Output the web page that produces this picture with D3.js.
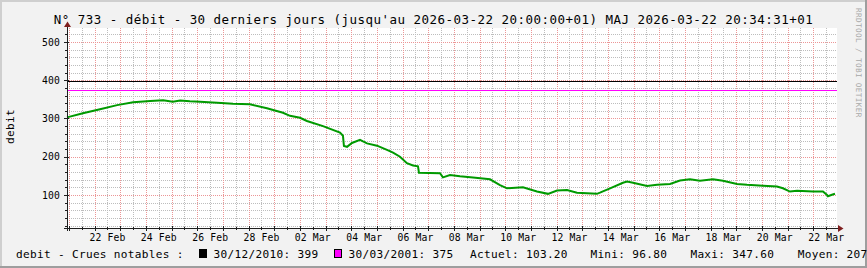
<!DOCTYPE html>
<html><head><meta charset="utf-8">
<script src="https://cdn.jsdelivr.net/npm/d3@7"></script>
<style>
html,body{margin:0;padding:0;background:#f2f2f2;overflow:hidden;}
svg{display:block;}
text{font-family:"DejaVu Sans Mono", monospace;fill:#000;}
</style></head><body>
<svg id="chart" width="867" height="268"></svg>
<script>
// ---- data ----
const title = "N° 733 - débit - 30 derniers jours (jusqu'au 2026-03-22 20:00:00+01) MAJ 2026-03-22 20:34:31+01";
const unitLabel = "debit";
const watermark = "RRDTOOL / TOBI OETIKER";
const times = [
  "2026-02-20T22:08Z","2026-02-21T13:00Z","2026-02-22T05:00Z","2026-02-22T21:00Z","2026-02-23T12:00Z",
  "2026-02-24T04:00Z","2026-02-24T16:00Z","2026-02-25T01:00Z","2026-02-25T08:00Z","2026-02-25T17:00Z",
  "2026-02-26T02:30Z","2026-02-26T18:30Z","2026-02-27T09:20Z","2026-02-28T01:10Z","2026-02-28T17:05Z",
  "2026-03-01T08:05Z","2026-03-01T14:40Z","2026-03-02T00:00Z","2026-03-02T06:30Z","2026-03-02T21:30Z",
  "2026-03-03T13:25Z","2026-03-03T16:10Z","2026-03-03T17:05Z","2026-03-03T20:00Z","2026-03-04T00:35Z",
  "2026-03-04T08:05Z","2026-03-04T10:55Z","2026-03-04T14:40Z","2026-03-05T00:00Z","2026-03-05T09:20Z",
  "2026-03-05T15:00Z","2026-03-05T21:30Z","2026-03-06T04:00Z","2026-03-06T09:40Z","2026-03-06T14:20Z",
  "2026-03-06T15:15Z","2026-03-07T10:55Z","2026-03-07T13:40Z","2026-03-07T20:15Z","2026-03-08T05:35Z",
  "2026-03-08T17:45Z","2026-03-09T09:40Z","2026-03-09T19:00Z","2026-03-10T01:35Z","2026-03-10T16:30Z",
  "2026-03-11T05:35Z","2026-03-11T15:55Z","2026-03-12T00:20Z","2026-03-12T09:40Z","2026-03-12T19:00Z",
  "2026-03-13T13:40Z","2026-03-13T16:30Z","2026-03-14T01:55Z","2026-03-14T14:00Z","2026-03-14T17:50Z",
  "2026-03-14T23:25Z","2026-03-15T12:30Z","2026-03-15T21:50Z","2026-03-16T10:00Z","2026-03-16T19:20Z",
  "2026-03-17T04:40Z","2026-03-17T14:00Z","2026-03-18T02:10Z","2026-03-18T11:30Z","2026-03-19T00:35Z",
  "2026-03-19T10:00Z","2026-03-20T00:55Z","2026-03-20T14:00Z","2026-03-20T19:35Z","2026-03-21T02:10Z",
  "2026-03-21T08:45Z","2026-03-21T23:40Z","2026-03-22T09:00Z","2026-03-22T12:50Z","2026-03-22T13:40Z",
  "2026-03-22T17:25Z","2026-03-22T20:15Z"
];
const values = [
  303, 313.6, 324, 335, 342.5,
  346, 347.6, 344, 347, 345,
  344, 341, 338.5, 337, 327,
  315, 307, 302, 293.5, 280,
  263, 255, 228, 226, 236,
  244, 240, 235, 229, 218,
  211, 200, 183, 177, 175,
  158, 157, 146, 152, 149,
  146, 141, 126, 117.5, 120,
  109, 103, 111.6, 113, 106,
  103, 106, 117.5, 132, 135,
  132, 123.5, 126.5, 129, 137.7,
  141, 137, 141, 137, 129,
  126.5, 124, 122, 117.5, 109,
  111, 109, 109, 100, 96.8,
  100.5, 103.2
];
const floodDates = ["30/12/2010", "30/03/2001"];
const floodValues = [399, 375];
const floodColors = ["#000000", "#ff00ff"];
const legendPrefix = "debit - Crues notables :";
const statLabels = ["Actuel", "Mini", "Maxi", "Moyen"];
const statValues = ["103.20", "96.80", "347.60", "207"];
const xTickDays = ["2026-02-22","2026-02-24","2026-02-26","2026-02-28","2026-03-02","2026-03-04",
  "2026-03-06","2026-03-08","2026-03-10","2026-03-12","2026-03-14","2026-03-16","2026-03-18",
  "2026-03-20","2026-03-22"];
const yTicks = [100, 200, 300, 400, 500];

// ---- layout ----
const W = 867, H = 268;
const L = 67, R = 837, T = 28, B = 228;
const svg = d3.select("#chart");
const x = d3.scaleUtc().domain([new Date("2026-02-20T22:08Z"), new Date("2026-03-22T22:08Z")]).range([L, R]);
const y = d3.scaleLinear().domain([13.7, 536.6]).range([B, T]);
const px = v => Math.round(v) + 0.5;

// background & shading
svg.append("rect").attr("width", W).attr("height", H).attr("fill", "#f2f2f2");
svg.append("rect").attr("x", 0).attr("y", 0).attr("width", W).attr("height", 2).attr("fill", "#cfcfcf");
svg.append("rect").attr("x", 0).attr("y", 0).attr("width", 2).attr("height", H).attr("fill", "#cfcfcf");
svg.append("rect").attr("x", 0).attr("y", H - 2).attr("width", W).attr("height", 2).attr("fill", "#9e9e9e");
svg.append("rect").attr("x", W - 2).attr("y", 0).attr("width", 2).attr("height", H).attr("fill", "#9e9e9e");
svg.append("rect").attr("x", L).attr("y", T).attr("width", R - L).attr("height", B - T).attr("fill", "#ffffff");

// grid
const g = svg.append("g").attr("shape-rendering", "crispEdges");
const minorY = d3.range(20, 540, 20).filter(v => v % 100 !== 0 && y(v) >= T && y(v) <= B);
const majorY = yTicks;
const days = d3.utcDay.range(x.domain()[0], x.domain()[1]);
const noons = d3.utcHour.range(x.domain()[0], x.domain()[1]).filter(d => d.getUTCHours() === 12);
const minorCol = "#bdbdbd", majorCol = "#ec9696";
g.selectAll(".hmin").data(minorY).join("line")
  .attr("x1", L).attr("x2", R).attr("y1", d => px(y(d))).attr("y2", d => px(y(d)))
  .attr("stroke", minorCol).attr("stroke-dasharray", "1,1");
g.selectAll(".vmin").data(noons).join("line")
  .attr("y1", T).attr("y2", B).attr("x1", d => px(x(d))).attr("x2", d => px(x(d)))
  .attr("stroke", minorCol).attr("stroke-dasharray", "1,1");
g.selectAll(".hmaj").data(majorY).join("line")
  .attr("x1", L).attr("x2", R).attr("y1", d => px(y(d))).attr("y2", d => px(y(d)))
  .attr("stroke", majorCol).attr("stroke-dasharray", "1,1");
g.selectAll(".vmaj").data(days).join("line")
  .attr("y1", T).attr("y2", B).attr("x1", d => px(x(d))).attr("x2", d => px(x(d)))
  .attr("stroke", majorCol).attr("stroke-dasharray", "1,1");

// flood lines
g.selectAll(".flood").data(floodValues).join("line")
  .attr("x1", L).attr("x2", R).attr("y1", d => px(y(d))).attr("y2", d => px(y(d)))
  .attr("stroke", (d, i) => floodColors[i]).attr("stroke-width", 1);

// series
const series = times.map((t, i) => ({ t: new Date(t), v: values[i] }));
svg.append("path").datum(series)
  .attr("d", d3.line().x(d => x(d.t)).y(d => y(d.v)))
  .attr("fill", "none").attr("stroke", "#009a00").attr("stroke-width", 2)
  .attr("stroke-linejoin", "miter");

// axes
const ax = svg.append("g").attr("shape-rendering", "crispEdges");
const axisCol = "#1f1f1f";
ax.append("line").attr("x1", L - 3).attr("x2", R + 3).attr("y1", B + 0.5).attr("y2", B + 0.5).attr("stroke", axisCol);
ax.append("line").attr("x1", L + 0.5).attr("x2", L + 0.5).attr("y1", B + 3).attr("y2", T - 2).attr("stroke", axisCol);
ax.selectAll(".xtmaj").data(days).join("line")
  .attr("x1", d => px(x(d))).attr("x2", d => px(x(d))).attr("y1", B - 2).attr("y2", B + 3).attr("stroke", axisCol);
ax.selectAll(".xtmin").data(noons).join("line")
  .attr("x1", d => px(x(d))).attr("x2", d => px(x(d))).attr("y1", B - 1).attr("y2", B + 2).attr("stroke", axisCol);
ax.selectAll(".ytmaj").data(majorY).join("line")
  .attr("y1", d => px(y(d))).attr("y2", d => px(y(d))).attr("x1", L - 3).attr("x2", L + 2).attr("stroke", axisCol);
ax.selectAll(".ytmin").data(minorY).join("line")
  .attr("y1", d => px(y(d))).attr("y2", d => px(y(d))).attr("x1", L - 2).attr("x2", L + 1).attr("stroke", axisCol);
svg.append("path").attr("d", `M${L + 0.5},21.5 L${L - 3},27 L${L + 4},27 Z`).attr("fill", "#7f1f1f");
svg.append("path").attr("d", `M843.5,${B + 0.5} L838,${B - 3} L838,${B + 4} Z`).attr("fill", "#7f1f1f");

// y tick labels
svg.selectAll(".ylab").data(yTicks).join("text")
  .attr("x", 60).attr("y", d => y(d) + 3.6).attr("text-anchor", "end")
  .style("font-size", "9.72px").style("letter-spacing", "0.15px").text(d => d);

// x tick labels
const fmt = d3.utcFormat("%d %b");
svg.selectAll(".xlab").data(xTickDays).join("text")
  .attr("x", d => x(d3.utcHour.offset(new Date(d + "T00:00Z"), 12)))
  .attr("y", 241).attr("text-anchor", "middle")
  .style("font-size", "9.72px").style("letter-spacing", "0.15px").text(d => fmt(new Date(d + "T00:00Z")));

// title
svg.append("text").attr("x", W / 2).attr("y", 24).attr("text-anchor", "middle")
  .style("font-size", "12.5px").style("letter-spacing", "0.47px").text(title);

// unit label
svg.append("text").attr("transform", "translate(14,126.5) rotate(-90)").attr("text-anchor", "middle")
  .style("font-size", "11.1px").style("letter-spacing", "0.31px").text(unitLabel);

// watermark
svg.append("text").attr("transform", "translate(856,8) rotate(90)")
  .style("font-size", "7.64px").style("letter-spacing", "0.4px").style("fill", "#a8a8a8").text(watermark);

// legend
const lg = svg.append("g").style("font-size", "11.1px").style("letter-spacing", "0.31px");
lg.append("text").attr("x", 16).attr("y", 257.5).text(legendPrefix);
const boxX = [199.5, 334.5], floodTextX = [213.6, 348.6];
floodValues.forEach((v, i) => {
  lg.append("rect").attr("x", boxX[i]).attr("y", 249.5).attr("width", 7).attr("height", 8)
    .attr("fill", floodColors[i]).attr("stroke", "#000").attr("stroke-width", 1);
  lg.append("text").attr("x", floodTextX[i]).attr("y", 257.5).text(`${floodDates[i]}: ${v}`);
});
const statX = [470, 590.4, 690.4, 797.7];
statLabels.forEach((s, i) => {
  lg.append("text").attr("x", statX[i]).attr("y", 257.5).text(`${s}: ${statValues[i]}`);
});
</script>
</body></html>
